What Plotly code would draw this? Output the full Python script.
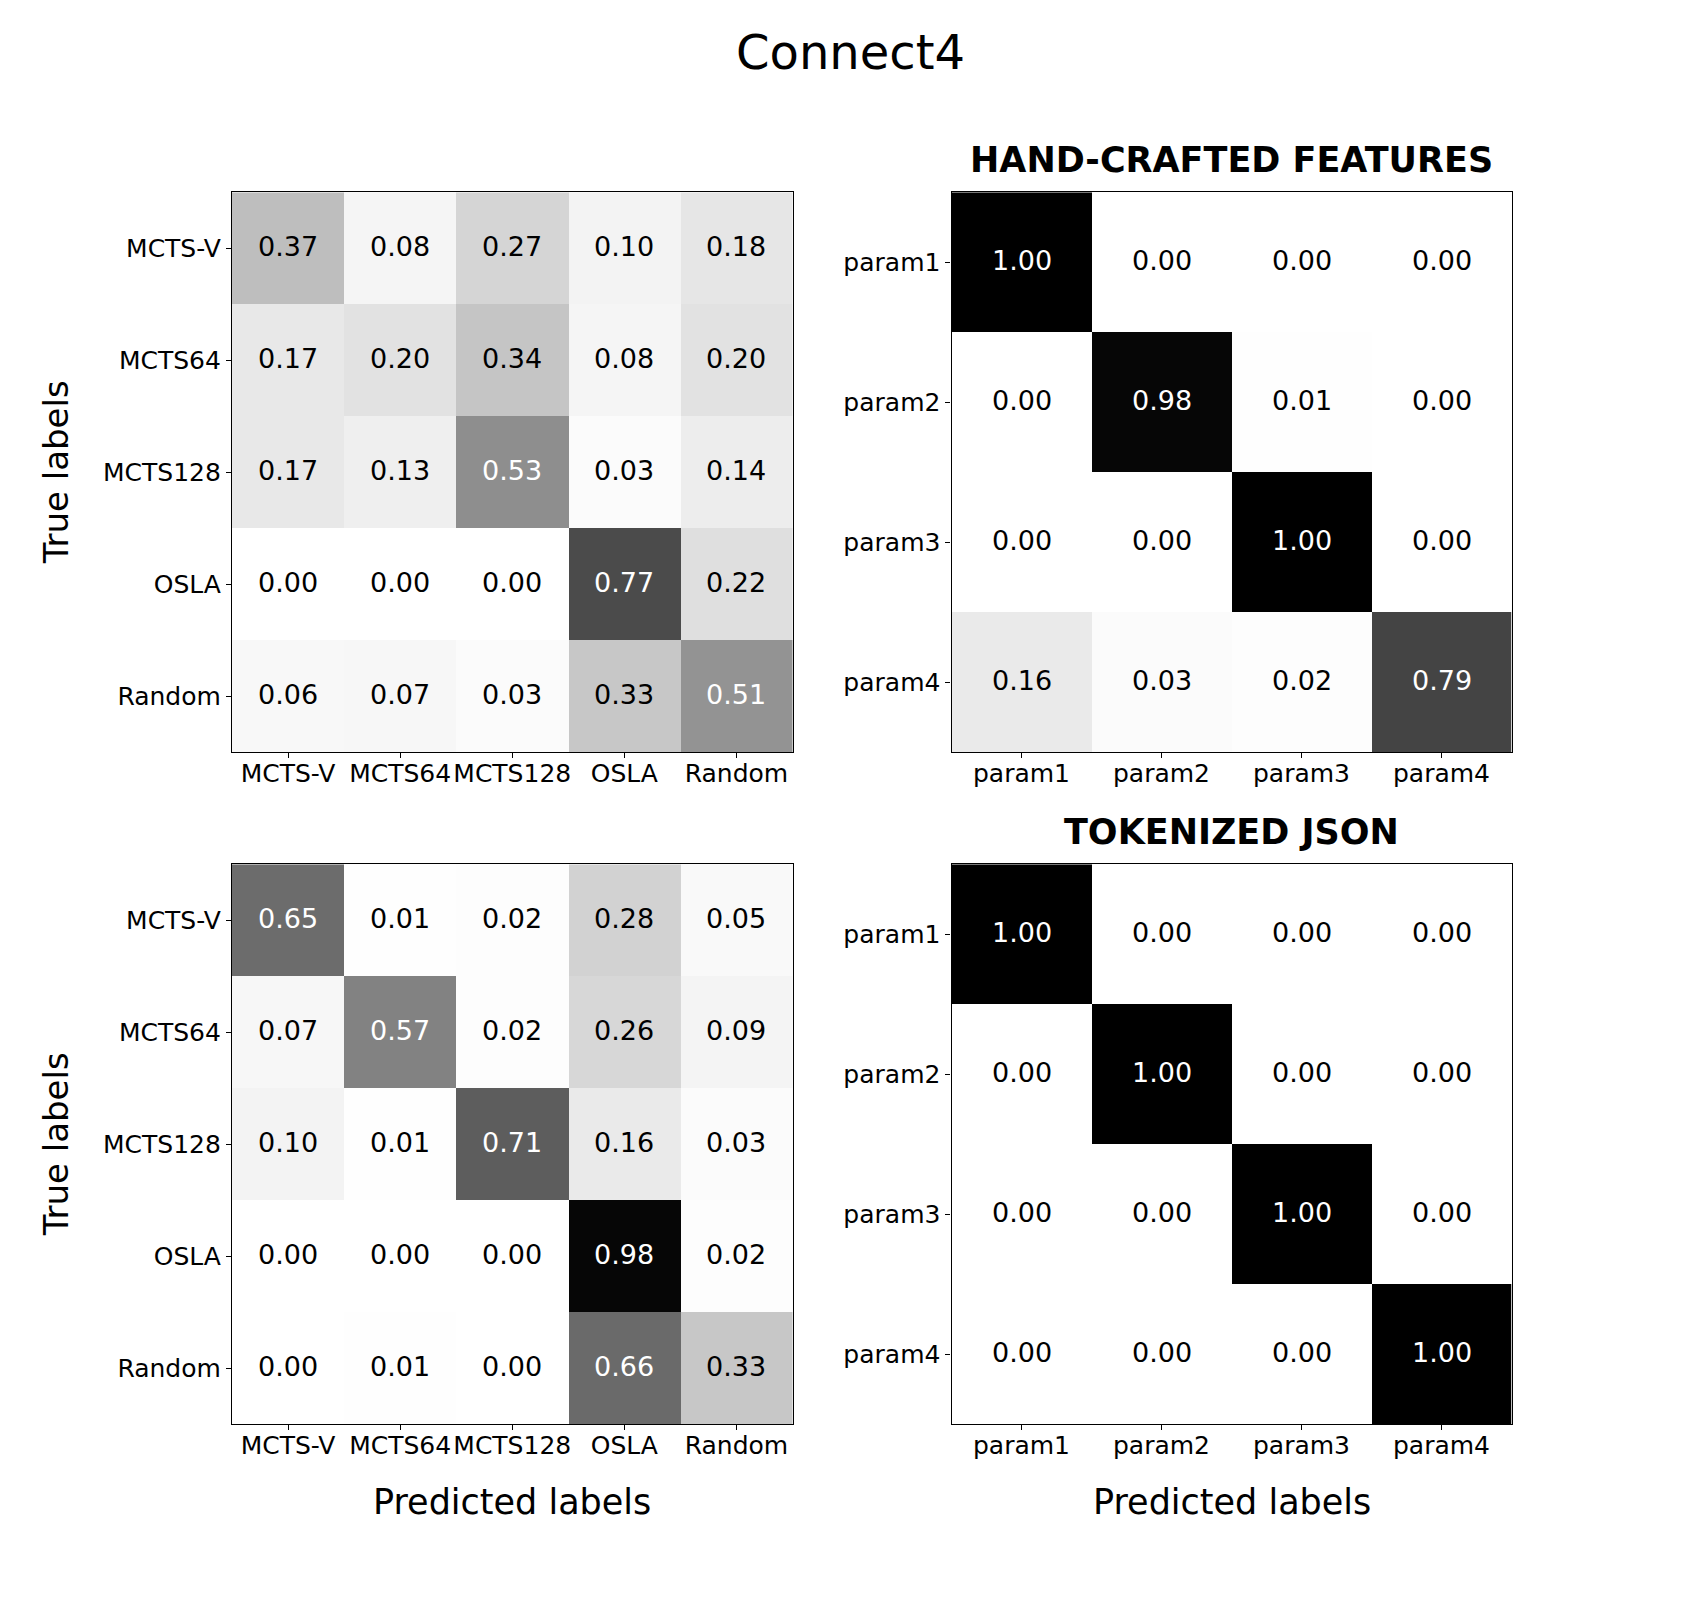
import plotly.graph_objects as go

# ---- data ----
agents = ["MCTS-V", "MCTS64", "MCTS128", "OSLA", "Random"]
params = ["param1", "param2", "param3", "param4"]

hand_agents = [
    [0.37, 0.08, 0.27, 0.10, 0.18],
    [0.17, 0.20, 0.34, 0.08, 0.20],
    [0.17, 0.13, 0.53, 0.03, 0.14],
    [0.00, 0.00, 0.00, 0.77, 0.22],
    [0.06, 0.07, 0.03, 0.33, 0.51],
]
hand_params = [
    [1.00, 0.00, 0.00, 0.00],
    [0.00, 0.98, 0.01, 0.00],
    [0.00, 0.00, 1.00, 0.00],
    [0.16, 0.03, 0.02, 0.79],
]
json_agents = [
    [0.65, 0.01, 0.02, 0.28, 0.05],
    [0.07, 0.57, 0.02, 0.26, 0.09],
    [0.10, 0.01, 0.71, 0.16, 0.03],
    [0.00, 0.00, 0.00, 0.98, 0.02],
    [0.00, 0.01, 0.00, 0.66, 0.33],
]
json_params = [
    [1.00, 0.00, 0.00, 0.00],
    [0.00, 1.00, 0.00, 0.00],
    [0.00, 0.00, 1.00, 0.00],
    [0.00, 0.00, 0.00, 1.00],
]

main_title = "Connect4"
panel_titles = ["", "HAND-CRAFTED FEATURES", "", "TOKENIZED JSON"]

# matplotlib "Greys"
greys = [
    [0.0, "#ffffff"], [0.125, "#f0f0f0"], [0.25, "#d9d9d9"], [0.375, "#bdbdbd"],
    [0.5, "#969696"], [0.625, "#737373"], [0.75, "#525252"], [0.875, "#252525"],
    [1.0, "#000000"],
]

FONT = "DejaVu Sans"
W, H = 1700, 1600

# panel pixel boxes (left, right, top, bottom)
boxes = [
    (232, 792.5, 192.3, 752.3),
    (951.5, 1511.5, 192.3, 752.3),
    (232, 792.5, 864.3, 1424.3),
    (951.5, 1511.5, 864.3, 1424.3),
]
panels = [
    (hand_agents, agents),
    (hand_params, params),
    (json_agents, agents),
    (json_params, params),
]

fig = go.Figure()
annotations = []
layout = {}

for i, ((mat, labels), box, ptitle) in enumerate(zip(panels, boxes, panel_titles)):
    n = i + 1
    xa = "x" if n == 1 else f"x{n}"
    ya = "y" if n == 1 else f"y{n}"
    fig.add_trace(go.Heatmap(
        z=mat, x=labels, y=labels, colorscale=greys, zmin=0, zmax=1,
        showscale=False, xaxis=xa, yaxis=ya, hoverinfo="skip",
    ))
    l, r, t, b = box
    xdom = [l / W, r / W]
    ydom = [1 - b / H, 1 - t / H]
    axcommon = dict(
        showline=True, mirror=True, linecolor="black", linewidth=1.2,
        ticks="outside", ticklen=5, tickwidth=1.2, tickcolor="black",
        showgrid=False, zeroline=False,
        tickfont=dict(family=FONT, size=25, color="black"),
        type="category",
    )
    layout["xaxis" if n == 1 else f"xaxis{n}"] = dict(
        domain=xdom, anchor=ya, range=[-0.5, len(labels) - 0.5],
        ticklabelstandoff=-6, **axcommon)
    layout["yaxis" if n == 1 else f"yaxis{n}"] = dict(
        domain=ydom, anchor=xa, range=[len(labels) - 0.5, -0.5], **axcommon)
    for ri, row in enumerate(mat):
        for ci, v in enumerate(row):
            annotations.append(dict(
                x=labels[ci], y=labels[ri], xref=xa, yref=ya,
                text=f"{v:.2f}", showarrow=False, yshift=2,
                xanchor="center", yanchor="middle",
                font=dict(family=FONT, size=27, color="white" if v > 0.5 else "black"),
            ))
    if ptitle:
        annotations.append(dict(
            x=(l + r) / 2 / W, y=1 - 160 / H if t < 500 else 1 - 832 / H,
            xref="paper", yref="paper",
            text=f"<b>{ptitle}</b>", showarrow=False,
            xanchor="center", yanchor="middle",
            font=dict(family=FONT, size=35, color="black"),
        ))

# axis titles
for (l, r, t, b) in [boxes[0], boxes[2]]:
    annotations.append(dict(
        x=56 / W, y=1 - (t + b) / 2 / H, xref="paper", yref="paper",
        text="True labels", textangle=-90, showarrow=False,
        xanchor="center", yanchor="middle",
        font=dict(family=FONT, size=34, color="black"),
    ))
for (l, r, t, b) in [boxes[2], boxes[3]]:
    annotations.append(dict(
        x=(l + r) / 2 / W, y=1 - 1502 / H, xref="paper", yref="paper",
        text="Predicted labels", showarrow=False,
        xanchor="center", yanchor="middle",
        font=dict(family=FONT, size=35, color="black"),
    ))

annotations.append(dict(
    x=0.5, y=1 - 52 / H, xref="paper", yref="paper", text=main_title,
    showarrow=False, xanchor="center", yanchor="middle",
    font=dict(family=FONT, size=48, color="black"),
))

fig.update_layout(
    width=W, height=H, margin=dict(l=0, r=0, t=0, b=0),
    paper_bgcolor="white", plot_bgcolor="white",
    annotations=annotations, showlegend=False,
    **layout,
)

fig.write_html("out.html")
